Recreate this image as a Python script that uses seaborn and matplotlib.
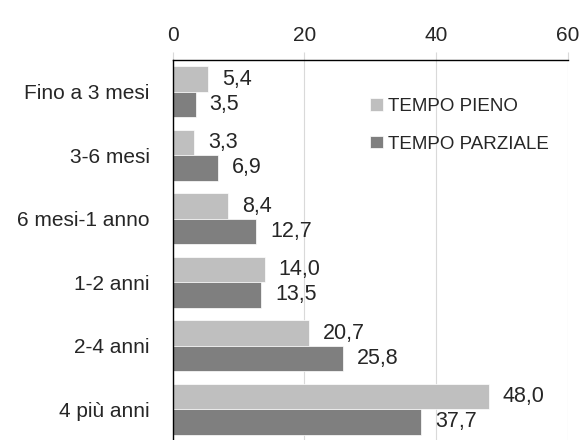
import matplotlib
matplotlib.use("Agg")
import matplotlib.pyplot as plt
import seaborn as sns
import pandas as pd
import numpy as np

categorie = ["Fino a 3 mesi", "3-6 mesi", "6 mesi-1 anno", "1-2 anni", "2-4 anni", "4 più anni"]
tempo_pieno = [5.4, 3.3, 8.4, 14.0, 20.7, 48.0]
tempo_parziale = [3.5, 6.9, 12.7, 13.5, 25.8, 37.7]
serie = ["TEMPO PIENO", "TEMPO PARZIALE"]
colori = ["#BFBFBF", "#7F7F7F"]
xticks = [0, 20, 40, 60]

df = pd.DataFrame({
    "categoria": categorie * 2,
    "valore": tempo_pieno + tempo_parziale,
    "serie": [serie[0]] * len(categorie) + [serie[1]] * len(categorie),
})

sns.set_theme(style="white")
plt.rcParams["font.family"] = ["Liberation Sans", "DejaVu Sans"]
testo = "#262626"

W, H = 584, 440
fig = plt.figure(figsize=(W / 100, H / 100), dpi=100)
# area del grafico in pixel: x 172.5-568, y 60-441
ax = fig.add_axes([172.5 / W, 1 - 441 / H, (568 - 172.5) / W, 381 / H])

sns.barplot(data=df, y="categoria", x="valore", hue="serie", hue_order=serie,
            order=categorie, palette=colori, orient="h", width=0.8,
            edgecolor="white", linewidth=0.5, saturation=1, ax=ax)

# etichette valori con virgola decimale
for cont in ax.containers:
    labels = [f"{v:.1f}".replace(".", ",") for v in cont.datavalues]
    ax.bar_label(cont, labels=labels, padding=10, fontsize=15.5, color=testo)

ax.set_xlim(0, 60)
ax.set_ylim(len(categorie) - 0.5, -0.5)
ax.set_xticks(xticks)
ax.xaxis.tick_top()
ax.tick_params(axis="x", which="major", length=6, width=0.8, color="#D9D9D9", pad=4.5,
               labelsize=15, labelcolor=testo)
ax.set_yticks(range(len(categorie)))
ax.set_yticklabels(categorie)
ax.tick_params(axis="y", which="major", length=0, pad=16.5, labelsize=15, labelcolor=testo)
ax.set_yticks(np.arange(-0.5, len(categorie)), minor=True)
ax.tick_params(axis="y", which="minor", length=5, width=0.8, color="#BFBFBF")
ax.set_xlabel("")
ax.set_ylabel("")

ax.grid(axis="x", color="#D9D9D9", linewidth=0.8)
ax.set_axisbelow(True)
for s in ["right", "bottom"]:
    ax.spines[s].set_visible(False)
for s in ["top", "left"]:
    ax.spines[s].set_color("black")
    ax.spines[s].set_linewidth(1.0)

leg = ax.legend(loc="upper left", bbox_to_anchor=(370 / W, 1 - 98 / H),
                bbox_transform=fig.transFigure, frameon=False, borderaxespad=0,
                borderpad=0, fontsize=13.5, handlelength=0.67, handleheight=0.67,
                handletextpad=0.3, labelspacing=1.1)
for t in leg.get_texts():
    t.set_color(testo)

fig.savefig("out.png", dpi=100)
